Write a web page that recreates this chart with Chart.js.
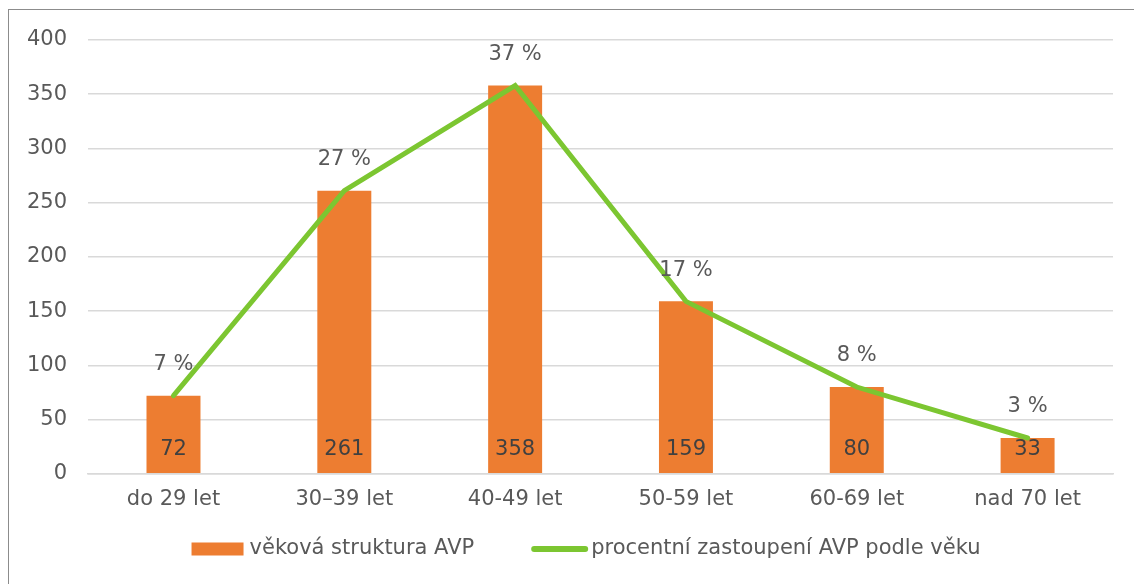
<!DOCTYPE html>
<html>
<head>
<meta charset="utf-8">
<script src="https://cdn.jsdelivr.net/npm/chart.js@4"></script>
<style>
  html, body { margin: 0; padding: 0; background: #fff; }
  #wrap { position: relative; width: 1134px; height: 584px; }
  #frame { position: absolute; left: 8px; top: 9px; width: 1200px; height: 700px;
           border-left: 1.5px solid #8c8c8c; border-top: 1.5px solid #8c8c8c; }
  canvas { position: absolute; left: 0; top: 0; }
</style>
</head>
<body>
<div id="wrap">
  <div id="frame"></div>
  <canvas id="chart" width="1134" height="584"></canvas>
</div>
<script>
// kategorie a hodnoty
const categories = ['do 29 let', '30–39 let', '40-49 let', '50-59 let', '60-69 let', 'nad 70 let'];
const counts = [72, 261, 358, 159, 80, 33];
const percents = [7, 27, 37, 17, 8, 3];
const yTicks = [0, 50, 100, 150, 200, 250, 300, 350, 400];
const seriesNames = ['věková struktura AVP', 'procentní zastoupení AVP podle věku'];

const FONT = '"DejaVu Sans"';
const SIZE = 21;
const TEXT = '#595959';
const ORANGE = '#ED7D31';
const GREEN = '#7CC631';

// popisky: procenta nad čárou, počty uvnitř sloupců
const labelPlugin = {
    id: 'labels',
    afterDatasetsDraw(chart) {
        const ctx = chart.ctx;
        const points = chart.getDatasetMeta(0).data;
        const bars = chart.getDatasetMeta(1).data;
        ctx.save();
        ctx.font = SIZE + 'px ' + FONT;
        ctx.textAlign = 'center';
        ctx.textBaseline = 'middle';
        bars.forEach((bar, i) => {
            ctx.fillStyle = '#404040';
            ctx.fillText(counts[i], bar.x, bar.base - 24);
        });
        points.forEach((pt, i) => {
            ctx.fillStyle = TEXT;
            ctx.fillText(percents[i] + ' %', pt.x, pt.y - 31);
        });
        ctx.restore();
    }
};

// vlastní legenda dole
const legendPlugin = {
    id: 'customLegend',
    afterDraw(chart) {
        const ctx = chart.ctx;
        ctx.save();
        ctx.font = SIZE + 'px ' + FONT;
        ctx.textBaseline = 'middle';
        ctx.textAlign = 'left';
        const w1 = ctx.measureText(seriesNames[0]).width;
        const w2 = ctx.measureText(seriesNames[1]).width;
        const total = 52 + 6 + w1 + 57 + 57 + 3 + w2;
        const y = 549;
        let x = chart.width / 2 + 19 - total / 2;
        ctx.fillStyle = ORANGE;
        ctx.fillRect(x, y - 6.5, 52, 13);
        x += 58;
        ctx.fillStyle = TEXT;
        ctx.fillText(seriesNames[0], x, y);
        x += w1 + 57;
        ctx.strokeStyle = GREEN;
        ctx.lineWidth = 6;
        ctx.lineCap = 'round';
        ctx.beginPath();
        ctx.moveTo(x + 3, y);
        ctx.lineTo(x + 54, y);
        ctx.stroke();
        x += 60;
        ctx.fillText(seriesNames[1], x, y);
        ctx.restore();
    }
};

new Chart(document.getElementById('chart'), {
    data: {
        labels: categories,
        datasets: [
            {
                type: 'line',
                label: seriesNames[1],
                data: counts,
                borderColor: GREEN,
                backgroundColor: GREEN,
                borderWidth: 5,
                borderCapStyle: 'round',
                pointRadius: 0,
                tension: 0,
                order: 0
            },
            {
                type: 'bar',
                label: seriesNames[0],
                data: counts,
                backgroundColor: ORANGE,
                barPercentage: 1,
                categoryPercentage: 0.316,
                order: 1
            }
        ]
    },
    options: {
        responsive: false,
        animation: false,
        layout: { padding: { top: 40, right: 21, left: 6, bottom: 67 } },
        plugins: {
            tooltip: { enabled: false },
            legend: { display: false }
        },
        scales: {
            x: {
                grid: { display: false },
                border: { color: '#d9d9d9', width: 1.5 },
                ticks: { color: TEXT, padding: 5, font: { family: FONT, size: SIZE } }
            },
            y: {
                min: 0,
                max: 400,
                afterBuildTicks(axis) { axis.ticks = yTicks.map(v => ({ value: v })); },
                grid: { color: '#d9d9d9', lineWidth: 1.5, drawTicks: false },
                border: { display: false },
                ticks: { color: TEXT, padding: 21, font: { family: FONT, size: SIZE } }
            }
        }
    },
    plugins: [labelPlugin, legendPlugin]
});
</script>
</body>
</html>
